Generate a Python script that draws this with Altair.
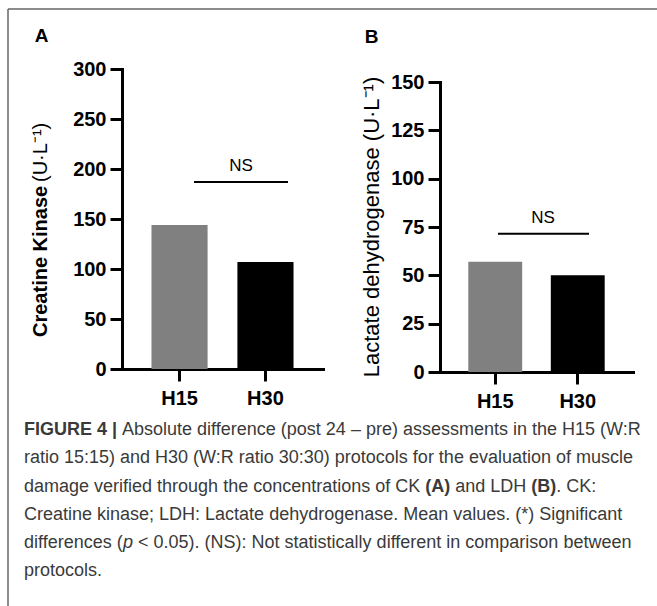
import altair as alt
import pandas as pd

# ---------------- data ----------------
categories = ["H15", "H30"]
ck_values = [144, 107]          # Creatine kinase (U·L-1)
ldh_values = [57, 50]           # Lactate dehydrogenase (U·L-1)
bar_colors = ["#808080", "#000000"]
ck_ticks = [0, 50, 100, 150, 200, 250, 300]
ldh_ticks = [0, 25, 50, 75, 100, 125, 150]
ck_ns_level = [187]
ldh_ns_level = [71.5]
ns_label = "NS"

# caption: list of lines, each a list of (text, style) segments
caption = [
    [("FIGURE 4 | ", "bold"),
     ("Absolute difference (post 24 \u2013 pre) assessments in the H15 (W:R", "normal")],
    [("ratio 15:15) and H30 (W:R ratio 30:30) protocols for the evaluation of muscle", "normal")],
    [("damage verified through the concentrations of CK ", "normal"), ("(A)", "bold"),
     (" and LDH ", "normal"), ("(B)", "bold"), (". CK:", "normal")],
    [("Creatine kinase; LDH: Lactate dehydrogenase. Mean values. (*) Significant", "normal")],
    [("differences (", "normal"), ("p", "italic"),
     (" < 0.05). (NS): Not statistically different in comparison between", "normal")],
    [("protocols.", "normal")],
]

W, H = 657, 606
FONT = "Liberation Sans"
CAP_COLOR = "#3a3a3a"
CAP_SIZE = 18

one = pd.DataFrame({"k": [0]})

# Arial / Liberation Sans advance widths (1/1000 em) for placing caption segments
_REG = dict(zip("ABCDEFGHIJKLMNOPQRSTUVWXYZ",
                [667, 667, 722, 722, 667, 611, 778, 722, 278, 500, 667, 556, 833,
                 722, 778, 667, 778, 722, 667, 611, 722, 667, 944, 667, 667, 611]))
_REG.update(zip("abcdefghijklmnopqrstuvwxyz",
                [556, 556, 500, 556, 556, 278, 556, 556, 222, 222, 500, 222, 833,
                 556, 556, 556, 556, 333, 500, 278, 556, 500, 722, 500, 500, 500]))
_REG.update({c: 556 for c in "0123456789"})
_REG.update({" ": 278, "(": 333, ")": 333, ":": 278, ";": 278, ".": 278, ",": 278,
             "*": 389, "<": 584, "\u2013": 556, "|": 260, "-": 333})
_BOLD = dict(_REG)
_BOLD.update(dict(zip("ABFGIURE", [722, 722, 611, 778, 278, 722, 722, 667])))
_BOLD.update({"|": 280})


def text_width(s, style, size):
    table = _BOLD if style == "bold" else _REG
    return sum(table.get(c, 556) for c in s) / 1000.0 * size


def axis_common(**kw):
    return alt.Axis(
        title=None, grid=False,
        domainColor="black", domainWidth=3, domainCap="square",
        tickColor="black", tickWidth=3,
        labelFont=FONT, labelFontSize=20, labelFontWeight="bold",
        labelColor="black", **kw)


def panel(values, ticks, ymax, yrange, xrange, y_off, x_off,
          ns_level, ns_x, ns_x2, ns_tx):
    df = pd.DataFrame({"group": categories, "value": values, "color": bar_colors})
    x = alt.X("group:N", sort=categories,
              scale=alt.Scale(range=xrange, paddingInner=0.347, paddingOuter=0.343),
              axis=axis_common(orient="bottom", offset=x_off, labelAngle=0,
                               tickSize=12, labelPadding=7))
    y = alt.Y("value:Q",
              scale=alt.Scale(domain=[0, ymax], range=yrange, nice=False, zero=True),
              axis=axis_common(orient="left", offset=y_off, values=ticks,
                               tickSize=12, labelPadding=4))
    bars = alt.Chart(df).mark_bar().encode(
        x=x, y=y, color=alt.Color("color:N", scale=None))
    nsdf = pd.DataFrame({"value": ns_level})
    rule = alt.Chart(nsdf).mark_rule(color="black", strokeWidth=2).encode(
        y=alt.Y("value:Q"), x=alt.value(ns_x), x2=alt.value(ns_x2))
    txt = alt.Chart(nsdf).mark_text(font=FONT, fontSize=17, color="black",
                                    baseline="middle", dy=-16).encode(
        y=alt.Y("value:Q"), x=alt.value(ns_tx), text=alt.value(ns_label))
    return alt.layer(bars, rule, txt)


panelA = panel(ck_values, ck_ticks, 300, [369, 69], [122, 323],
               -122, -237, ck_ns_level, 194, 288, 241)
panelB = panel(ldh_values, ldh_ticks, 150, [372, 82], [440, 633],
               -440, -234, ldh_ns_level, 498, 589, 543)


def label(text, x, y, size, weight="normal", angle=0, align="center",
          color="black", style="normal"):
    return alt.Chart(one).mark_text(
        text=text, font=FONT, fontSize=size, fontWeight=weight, angle=angle,
        align=align, baseline="middle", color=color, fontStyle=style
    ).encode(x=alt.value(x), y=alt.value(y))


decor = [
    alt.Chart(one).mark_rule(color="#666666", strokeWidth=1.5).encode(
        x=alt.value(8), x2=alt.value(W), y=alt.value(9)),
    alt.Chart(one).mark_rule(color="#666666", strokeWidth=1.5).encode(
        x=alt.value(8), y=alt.value(9), y2=alt.value(H)),
    label("A", 41.5, 36, 19, "bold"),
    label("B", 371.5, 37, 19, "bold"),
    label("Creatine Kinase", 41, 337, 20, "bold", angle=270, align="left"),
    label("(U\u00b7L\u207b\u00b9)", 41, 182, 20, "normal", angle=270, align="left"),
    label("Lactate dehydrogenase (U\u00b7L\u207b\u00b9)", 372, 227, 22, "normal",
          angle=270, align="center"),
]

cap_y = [430, 458, 487, 515, 543, 571]
caps = []
for line, yy in zip(caption, cap_y):
    xx = 24.0
    for seg, style in line:
        s = seg.strip()
        lead = text_width(seg[: len(seg) - len(seg.lstrip())], style, CAP_SIZE)
        caps.append(label(s, xx + lead, yy, CAP_SIZE,
                          "bold" if style == "bold" else "normal",
                          align="left", color=CAP_COLOR,
                          style="italic" if style == "italic" else "normal"))
        xx += text_width(seg, style, CAP_SIZE)

chart = alt.layer(panelA, panelB, *decor, *caps).resolve_scale(
    x="independent", y="independent", color="independent"
).resolve_axis(x="independent", y="independent").properties(
    width=W, height=H, padding=0,
    autosize=alt.AutoSizeParams(type="none"),
    background="white",
).configure_view(strokeWidth=0)

chart.save("out.html", embed_options={"renderer": "svg", "actions": False})
